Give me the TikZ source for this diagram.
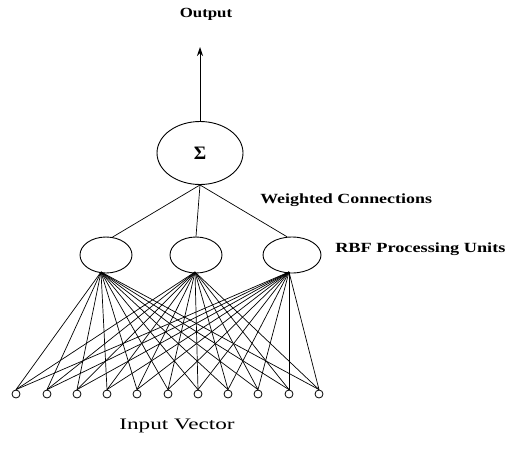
\documentclass[tikz,border=0pt]{standalone}
\usepackage{fontspec}
\setmainfont{Liberation Serif}
\usetikzlibrary{arrows.meta,shapes.geometric}
\begin{document}
\begin{tikzpicture}[x=1pt,y=-1pt,
  lbl/.style={inner sep=0pt,font=\bfseries\fontsize{14}{16}\selectfont,xscale=1.28},
  unit/.style={draw,ellipse,minimum width=52pt,minimum height=36pt,inner sep=0pt,line width=0.9pt},
  inp/.style={draw,circle,minimum size=8pt,inner sep=0pt,line width=0.8pt},
  conn/.style={line width=0.7pt}]
\useasboundingbox (0,0) rectangle (505,458);
\node[lbl,xscale=0.94] (out) at (206,14) {Output};
\node[draw,ellipse,minimum width=86pt,minimum height=63pt,inner sep=0pt,line width=0.9pt,font=\bfseries\fontsize{19}{21}\selectfont] (sig) at (200,153) {Σ};
\coordinate (tip) at (200,47);
\draw[line width=0.9pt,-{Stealth[length=9pt,width=6pt]}] (sig.north) -- (tip);
\node[lbl,anchor=west] (wc) at (260,200) {Weighted Connections};
\node[unit] (r1) at (106,255) {};
\node[unit] (r2) at (196,255) {};
\node[unit,minimum width=58pt] (r3) at (292,255) {};
\node[lbl,anchor=west,xscale=1.02] (rbf) at (335,249) {RBF Processing Units};
\draw[conn] (sig.south) -- (r1.70);
\draw[conn] (sig.south) -- (r2.north);
\draw[conn] (sig.south) -- (r3.105);
\foreach \i/\x in {1/16,2/47,3/77,4/107,5/137,6/168,7/198,8/228,9/258,10/289,11/319} {
  \node[inp] (i\i) at (\x,394) {};
}
\coordinate (b1) at (101,272);
\coordinate (b2) at (195,272);
\coordinate (b3) at (289,272);
\foreach \r in {1,2,3} {
  \foreach \i in {1,...,11} {
    \draw[conn] (b\r) -- (i\i.north);
  }
}
\node[inner sep=0pt,font=\fontsize{16}{18}\selectfont,xscale=1.45] (iv) at (177,426) {Input Vector};
\end{tikzpicture}
\end{document}
